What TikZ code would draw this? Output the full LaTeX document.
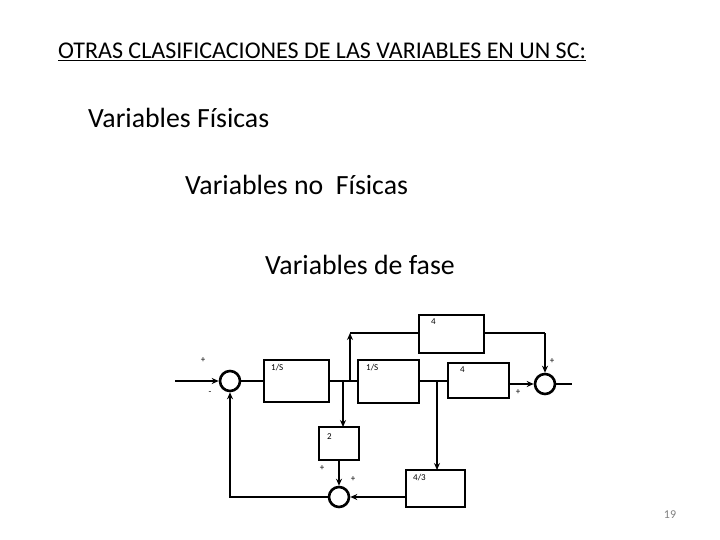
\documentclass[tikz,border=0pt]{standalone}
\usepackage{fontspec}
\setmainfont{Carlito}
\usetikzlibrary{arrows.meta}
\begin{document}
\begin{tikzpicture}[x=1pt,y=-1pt,
  ln/.style={line width=2.6pt},
  arr/.style={line width=2.6pt,-{Stealth[length=7pt,width=6pt]}},
  sm/.style={draw,circle,line width=2.6pt,minimum size=20pt,inner sep=0},
  lab/.style={font=\fontsize{9}{10}\selectfont,anchor=north west,inner sep=0},
  sg/.style={font=\fontsize{9}{10}\selectfont,inner sep=0}]
\useasboundingbox (0,0) rectangle (720,540);
\node[anchor=west,inner sep=0,font=\fontsize{24}{28}\selectfont] (t) at (58,52) {\underline{OTRAS CLASIFICACIONES DE LAS VARIABLES EN UN SC:}};
\node[anchor=west,inner sep=0,font=\fontsize{27.8}{32}\selectfont] (v1) at (88,118) {Variables Físicas};
\node[anchor=west,inner sep=0,font=\fontsize{27.8}{32}\selectfont] (v2) at (185,185) {Variables no\ \ Físicas};
\node[anchor=west,inner sep=0,font=\fontsize{27.8}{32}\selectfont] (v3) at (265,265) {Variables de fase};
\node[inner sep=0,font=\fontsize{12}{14}\selectfont,text=gray] (pg) at (670,515) {19};
% blocks
\draw[ln] (264,360) rectangle (329,402); \node[lab] (b1) at (271,364) {1/S};
\draw[ln] (358,360) rectangle (419,403); \node[lab] (b2) at (366,364) {1/S};
\draw[ln] (448,363) rectangle (509,398); \node[lab] (b3) at (460,367) {4};
\draw[ln] (419,315) rectangle (484,353); \node[lab] (b4) at (431,319) {4};
\draw[ln] (319,427) rectangle (359,460); \node[lab] (b5) at (327,433) {2};
\draw[ln] (406,470) rectangle (465,507); \node[lab] (b6) at (413,474) {4/3};
\node[sm] (s1) at (230,381) {};
\node[sm] (s2) at (545,384) {};
\node[sm] (s3) at (339,497) {};
\coordinate (in) at (175,381);
\coordinate (out) at (572,384);
% connections
\draw[arr] (in) -- (s1);
\draw[ln] (s1) -- (264,381);
\draw[ln] (329,381) -- (358,381);
\draw[ln] (419,381) -- (448,381);
\draw[arr] (509,384) -- (s2);
\draw[ln] (s2) -- (out);
\draw[arr] (350,381) -- (350,333);
\draw[ln] (350,333) -- (419,333);
\draw[ln] (484,333) -- (545,333);
\draw[arr] (545,333) -- (s2.north);
\draw[arr] (343,381) -- (343,427);
\draw[arr] (339,460) -- (s3.north);
\draw[arr] (437,381) -- (437,470);
\draw[arr] (406,497) -- (s3.east);
\draw[arr] (s3.west) -| (s1.south);
% signs
\node[sg] (p1) at (203,360) {+};
\node[sg] (m1) at (210,393) {-};
\node[sg] (p2) at (552,361) {+};
\node[sg] (p3) at (518,392) {+};
\node[sg] (p4) at (322,468) {+};
\node[sg] (p5) at (353,479) {+};
\end{tikzpicture}
\end{document}
